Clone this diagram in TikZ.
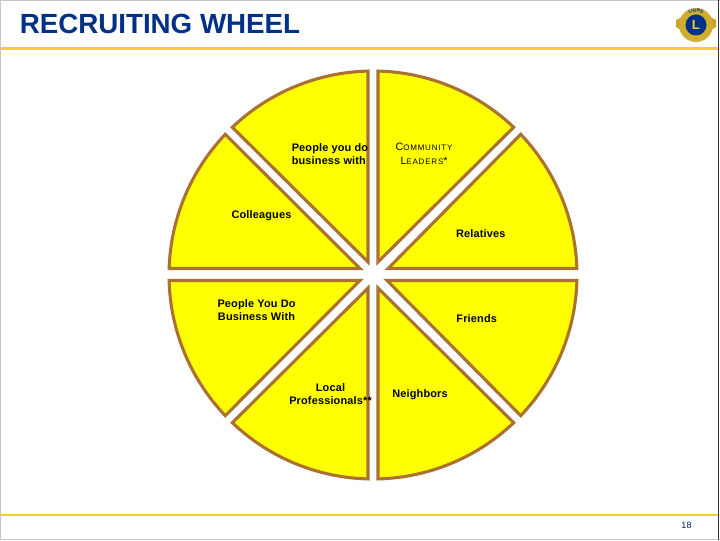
\documentclass[tikz,border=0pt]{standalone}
\usepackage{fontspec}
\setmainfont{Liberation Sans}
\usetikzlibrary{decorations.text}
\definecolor{wheelbrown}{RGB}{170,113,48}
\definecolor{wheelyellow}{RGB}{255,255,0}
\definecolor{titleblue}{RGB}{0,48,135}
\definecolor{rulegold}{RGB}{245,203,55}
\tikzset{
	sector/.style={draw=wheelbrown, fill=wheelyellow, line width=2.3pt, miter limit=10},
	wheeltext/.style={inner sep=0pt, align=center, font=\fontsize{8.2}{9.8}\selectfont\bfseries\addfontfeature{LetterSpace=1.5}},
	rulebar/.style={draw=rulegold, line width=1.9pt}
}
\begin{document}
\begin{tikzpicture}[x=.75pt,y=.75pt]
			\useasboundingbox (0,0) rectangle (720,540);
			\fill[white] (0,0) rectangle (720,540);
			\draw[gray!45, line width=1.2pt] (0,0) -- (0,540) -- (720,540);
			\draw[gray!45, line width=1.2pt] (0,.5) -- (720,.5);
			\draw[black!80, line width=1pt] (718.5,0) -- (718.5,540);
			\draw[rulebar] (1,25) -- (718,25);
			\draw[rulebar] (1,491.5) -- (718,491.5);
			\node[anchor=base west, inner sep=0pt, text=titleblue, font=\fontsize{20.8}{24}\selectfont\bfseries] (title) at (19.5,506.5) {RECRUITING WHEEL};
			\begin{scope}[shift={(373,265)}]
			\foreach \apx/\apy/\angA/\angB in {5/13/88.6/46.4, 15/6.5/43.6/1.83, 14/-5.5/-1.54/-43.6, 5/-13/-46.4/-88.6, -5/-13/-91.4/-133.6, -13/-5.5/-136.4/-178.46, -13/6.5/178.17/136.4, -5/13/133.6/91.4}
			\draw[sector] (\apx,\apy) -- (\angA:204) arc[start angle=\angA, end angle=\angB, radius=153pt] -- cycle;
			\end{scope}
			\node[wheeltext, align=left, anchor=west] (business) at (291.5,385.5) {People you do\\business with};
			\node[wheeltext, font=\fontsize{8}{10.5}\selectfont] (leaders) at (424,386) {C{\fontsize{6}{10.5}\selectfont\addfontfeature{LetterSpace=10}OMMUNITY}\\L{\fontsize{6}{10.5}\selectfont\addfontfeature{LetterSpace=10}EADERS}*};
			\node[wheeltext] (colleagues) at (261.5,324.5) {Colleagues};
			\node[wheeltext] (relatives) at (480.7,306.5) {Relatives};
			\node[wheeltext] (doBusiness) at (256.5,229.5) {People You Do\\Business With};
			\node[wheeltext] (friends) at (476.7,221.5) {Friends};
			\node[wheeltext] (professionals) at (330.5,145.5) {Local\\Professionals**};
			\node[wheeltext] (neighbors) at (420,145.5) {Neighbors};
			\node[text=titleblue!70!black, inner sep=0pt, font=\fontsize{6.8}{8}\selectfont] (page) at (686.5,14.5) {18};
			\begin{scope}[shift={(696,515)}]
			\fill[rulegold!80!black] (-20,5) -- (-10,10) -- (-10,-8) -- (-20,-2) -- cycle;
			\fill[rulegold!80!black] (20,5) -- (10,10) -- (10,-8) -- (20,-2) -- cycle;
			\fill[rulegold!85!black] (0,0) circle (17);
			\path[decorate, decoration={text along path, text align=center, text={|\fontsize{3.4}{4}\selectfont\bfseries\color{titleblue}|LIONS}}] (-12,4.5) arc[start angle=160, end angle=20, radius=9.6pt];
			\fill[titleblue] (0,0) circle (10.5);
			\node[text=rulegold, inner sep=0pt, font=\fontsize{10}{12}\selectfont\bfseries] (lionsL) at (0,0) {L};
			\end{scope}
			\end{tikzpicture}
\end{document}
